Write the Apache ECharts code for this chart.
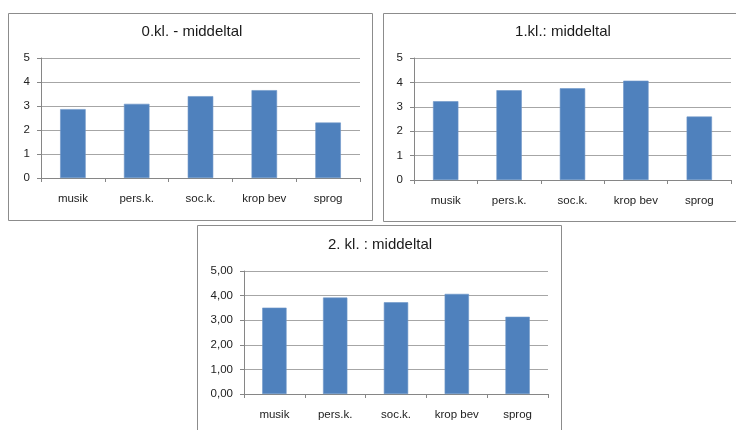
<!DOCTYPE html>
<html>
<head>
<meta charset="utf-8">
<script src="https://cdn.jsdelivr.net/npm/echarts@6/dist/echarts.min.js"></script>
<style>
html,body{margin:0;padding:0;background:#fff;}
#main{width:736px;height:430px;}
</style>
</head>
<body>
<div id="main"></div>
<script>
const categories = ['musik', 'pers.k.', 'soc.k.', 'krop bev', 'sprog'];
const values0 = [2.87, 3.09, 3.41, 3.66, 2.31];
const values1 = [3.23, 3.68, 3.76, 4.07, 2.60];
const values2 = [3.51, 3.92, 3.73, 4.07, 3.14];
const chartTitles = ['0.kl. - middeltal', '1.kl.: middeltal', '2. kl. : middeltal'];
const yMin = 0, yMax = 5, yStep = 1;

const FONT = '"Liberation Sans", Arial, sans-serif';
const BAR = '#4F81BD';
const GRID = '#a6a6a6';
const AXIS = '#868686';

const grids = [
  {left: 41, top: 58, width: 319, height: 120},
  {left: 414, top: 58, width: 317, height: 122},
  {left: 244, top: 271, width: 304, height: 123}
];
const titlePos = [{x: 192, y: 33}, {x: 563, y: 33}, {x: 380, y: 246}];
const seriesData = [values0, values1, values2];

const chart = echarts.init(document.getElementById('main'), null, {renderer: 'canvas'});

const option = {
  animation: false,
  backgroundColor: '#fff',
  graphic: [
    {type: 'rect', shape: {x: 8.5, y: 13.5, width: 364, height: 207}, style: {fill: 'none', stroke: '#8c8c8c', lineWidth: 1}, z: -1},
    {type: 'rect', shape: {x: 383.5, y: 13.5, width: 370, height: 208}, style: {fill: 'none', stroke: '#8c8c8c', lineWidth: 1}, z: -1},
    {type: 'rect', shape: {x: 197.5, y: 225.5, width: 364, height: 230}, style: {fill: 'none', stroke: '#8c8c8c', lineWidth: 1}, z: -1}
  ],
  title: chartTitles.map((t, i) => ({
    text: t,
    left: titlePos[i].x,
    top: titlePos[i].y - 9,
    textAlign: 'center',
    padding: 0,
    textStyle: {fontFamily: FONT, fontSize: 15, fontWeight: 'normal', color: '#1a1a1a'}
  })),
  grid: grids.map(g => Object.assign({containLabel: false}, g)),
  xAxis: grids.map((g, i) => ({
    type: 'category',
    gridIndex: i,
    data: categories,
    boundaryGap: true,
    axisLine: {show: true, lineStyle: {color: AXIS, width: 1}},
    axisTick: {show: true, length: 4, lineStyle: {color: AXIS}, alignWithLabel: false},
    axisLabel: {margin: 15, fontFamily: FONT, fontSize: 11.5, color: '#222', interval: 0},
    splitLine: {show: false}
  })),
  yAxis: grids.map((g, i) => ({
    type: 'value',
    gridIndex: i,
    min: yMin,
    max: yMax,
    interval: yStep,
    axisLine: {show: true, lineStyle: {color: AXIS, width: 1}},
    axisTick: {show: true, length: 4, lineStyle: {color: AXIS}},
    axisLabel: {
      margin: 11,
      fontFamily: FONT,
      fontSize: 11.5,
      color: '#222',
      formatter: i === 2 ? (v => v.toFixed(2).replace('.', ',')) : (v => String(v))
    },
    splitLine: {show: true, lineStyle: {color: GRID, width: 1}}
  })),
  series: seriesData.map((d, i) => ({
    type: 'bar',
    xAxisIndex: i,
    yAxisIndex: i,
    data: d,
    barWidth: '40%',
    itemStyle: {color: BAR, borderColor: '#6d96c8', borderWidth: 0.6}
  }))
};
chart.setOption(option);
</script>
</body>
</html>
